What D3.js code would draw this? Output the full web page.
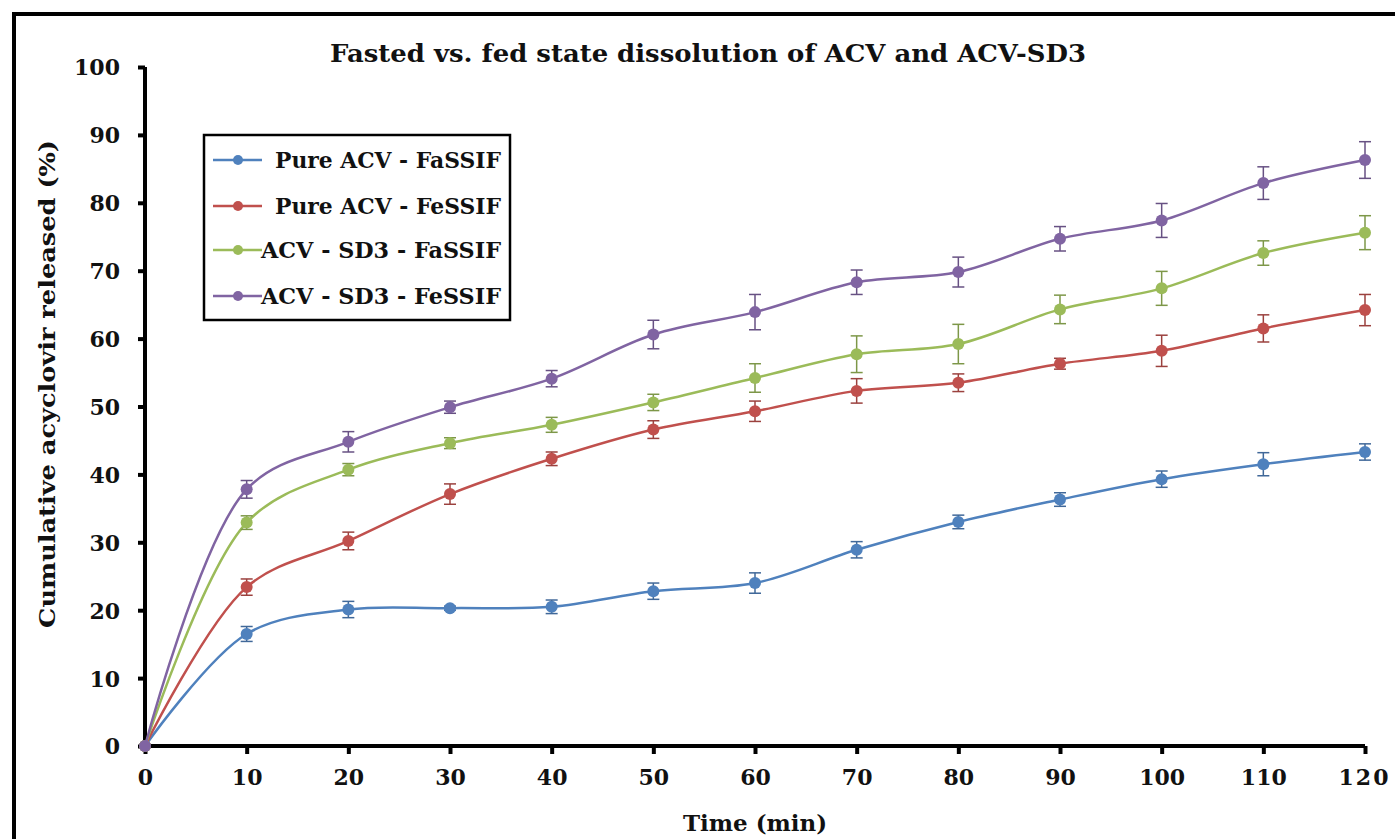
<!DOCTYPE html>
<html>
<head>
<meta charset="utf-8">
<script src="https://cdn.jsdelivr.net/npm/d3@7"></script>
<style>
  body { margin: 0; background: #fff; }
  svg text { font-family: "DejaVu Serif", "Liberation Serif", serif; font-weight: bold; fill: #111; }
</style>
</head>
<body>
<div id="chart"></div>
<script>
// sampling times (min)
var times = [0, 10, 20, 30, 40, 50, 60, 70, 80, 90, 100, 110, 120];

var seriesNames = ["Pure ACV - FaSSIF", "Pure ACV - FeSSIF", "ACV - SD3 - FaSSIF", "ACV - SD3 - FeSSIF"];
var seriesColors = ["#4f81bd", "#c0504d", "#9bbb59", "#8064a2"];

// cumulative release (%)
var pureFa = [0, 16.5, 20.1, 20.3, 20.5, 22.8, 24.0, 28.9, 33.0, 36.3, 39.3, 41.5, 43.3];
var pureFe = [0, 23.4, 30.2, 37.1, 42.3, 46.6, 49.3, 52.3, 53.5, 56.3, 58.2, 61.5, 64.2];
var sd3Fa  = [0, 32.9, 40.7, 44.6, 47.3, 50.6, 54.2, 57.7, 59.2, 64.3, 67.4, 72.6, 75.6];
var sd3Fe  = [0, 37.8, 44.8, 49.9, 54.1, 60.6, 63.9, 68.3, 69.8, 74.7, 77.4, 82.9, 86.3];

// standard deviations
var pureFaSd = [0, 1.1, 1.2, 0.3, 1.0, 1.2, 1.5, 1.2, 1.0, 1.0, 1.2, 1.7, 1.2];
var pureFeSd = [0, 1.2, 1.3, 1.5, 1.0, 1.3, 1.5, 1.8, 1.3, 0.8, 2.3, 2.0, 2.3];
var sd3FaSd  = [0, 1.0, 0.9, 0.8, 1.1, 1.2, 2.1, 2.7, 2.9, 2.1, 2.5, 1.8, 2.5];
var sd3FeSd  = [0, 1.3, 1.5, 0.9, 1.2, 2.1, 2.6, 1.8, 2.2, 1.8, 2.5, 2.4, 2.7];

var yTicks = [0, 10, 20, 30, 40, 50, 60, 70, 80, 90, 100];
var xTicks = [0, 10, 20, 30, 40, 50, 60, 70, 80, 90, 100, 110, 120];

var allValues = [pureFa, pureFe, sd3Fa, sd3Fe];
var allSd = [pureFaSd, pureFeSd, sd3FaSd, sd3FeSd];

var series = seriesNames.map(function(name, i) {
  return {
    name: name,
    color: seriesColors[i],
    points: times.map(function(t, j) { return {x: t, y: allValues[i][j], sd: allSd[i][j]}; })
  };
});

var width = 1395, height = 839;

var svg = d3.select("#chart").append("svg")
    .attr("width", width)
    .attr("height", height);

// outer frame (only top and left edges are visible in the crop)
svg.append("path")
    .attr("d", "M14," + height + " V14 H" + width)
    .attr("fill", "none")
    .attr("stroke", "#000")
    .attr("stroke-width", 4);

var x = d3.scaleLinear().domain([0, 120]).range([145, 1365]);
var y = d3.scaleLinear().domain([0, 100]).range([746, 67]);

// title
svg.append("text")
    .attr("x", 708).attr("y", 62)
    .attr("text-anchor", "middle")
    .style("font-size", "24px")
    .attr("textLength", 756)
    .attr("lengthAdjust", "spacingAndGlyphs")
    .text("Fasted vs. fed  state dissolution of ACV and ACV-SD3");

// y axis
var yAxis = svg.append("g")
    .attr("transform", "translate(" + x(0) + ",0)")
    .call(d3.axisLeft(y).tickValues(yTicks).tickSize(7).tickPadding(18));
yAxis.select(".domain").attr("stroke-width", 4).attr("d", "M0," + y(100) + "V" + y(0));
yAxis.selectAll(".tick line").attr("stroke-width", 4);
yAxis.selectAll(".tick text")
    .style("font-size", "22px")
    .attr("dy", "0.36em");

// x axis
var xAxis = svg.append("g")
    .attr("transform", "translate(0," + y(0) + ")")
    .call(d3.axisBottom(x).tickValues(xTicks).tickSize(8).tickPadding(15));
xAxis.select(".domain").attr("stroke-width", 4).attr("d", "M" + x(0) + ",0H" + x(120));
xAxis.selectAll(".tick line").attr("stroke-width", 4);
xAxis.selectAll(".tick text")
    .style("font-size", "22px")
    .style("letter-spacing", function(d) { return d === 120 ? "2px" : "0px"; })
    .attr("dx", function(d) { return d === 120 ? -1 : 0; });

// axis titles
svg.append("text")
    .attr("x", 755).attr("y", 831)
    .attr("text-anchor", "middle")
    .style("font-size", "22px")
    .attr("textLength", 144)
    .attr("lengthAdjust", "spacingAndGlyphs")
    .text("Time (min)");

svg.append("text")
    .attr("transform", "translate(55,384) rotate(-90)")
    .attr("text-anchor", "middle")
    .style("font-size", "22px")
    .attr("textLength", 488)
    .attr("lengthAdjust", "spacingAndGlyphs")
    .text("Cumulative acyclovir released (%)");

// lines
var line = d3.line()
    .x(function(d) { return x(d.x); })
    .y(function(d) { return y(d.y); })
    .curve(d3.curveCatmullRom.alpha(0.5));

var groups = svg.selectAll(".series")
    .data(series)
  .enter().append("g")
    .attr("class", "series");

groups.append("path")
    .attr("d", function(d) { return line(d.points); })
    .attr("fill", "none")
    .attr("stroke", function(d) { return d.color; })
    .attr("stroke-width", 2.5);

// error bars and markers
groups.each(function(s) {
  var g = d3.select(this);
  var darker = d3.color(s.color).darker(0.6);
  var eb = g.selectAll(".err")
      .data(s.points.filter(function(p) { return p.sd > 0; }))
    .enter().append("g")
      .attr("class", "err")
      .attr("stroke", darker)
      .attr("stroke-width", 1.5);
  eb.append("line")
      .attr("x1", function(p) { return x(p.x); })
      .attr("x2", function(p) { return x(p.x); })
      .attr("y1", function(p) { return y(p.y - p.sd); })
      .attr("y2", function(p) { return y(p.y + p.sd); });
  eb.append("line")
      .attr("x1", function(p) { return x(p.x) - 6; })
      .attr("x2", function(p) { return x(p.x) + 6; })
      .attr("y1", function(p) { return y(p.y + p.sd); })
      .attr("y2", function(p) { return y(p.y + p.sd); });
  eb.append("line")
      .attr("x1", function(p) { return x(p.x) - 6; })
      .attr("x2", function(p) { return x(p.x) + 6; })
      .attr("y1", function(p) { return y(p.y - p.sd); })
      .attr("y2", function(p) { return y(p.y - p.sd); });

  g.selectAll(".dot")
      .data(s.points)
    .enter().append("circle")
      .attr("class", "dot")
      .attr("cx", function(p) { return x(p.x); })
      .attr("cy", function(p) { return y(p.y); })
      .attr("r", 6)
      .attr("fill", s.color);
});

// legend
var legend = svg.append("g");
legend.append("rect")
    .attr("x", 204).attr("y", 135)
    .attr("width", 306).attr("height", 185)
    .attr("fill", "#fff")
    .attr("stroke", "#000")
    .attr("stroke-width", 2.5);

var legendY = [160, 206, 250, 296];
var legendTextX = [275, 275, 261, 261];
var legendTextLen = [226, 226, 240, 240];

var items = legend.selectAll(".item")
    .data(series)
  .enter().append("g")
    .attr("class", "item")
    .attr("transform", function(d, i) { return "translate(0," + legendY[i] + ")"; });

items.append("line")
    .attr("x1", 213).attr("x2", 262)
    .attr("stroke", function(d) { return d.color; })
    .attr("stroke-width", 2.5);
items.append("circle")
    .attr("cx", 238).attr("r", 5)
    .attr("fill", function(d) { return d.color; });
items.append("text")
    .attr("x", function(d, i) { return legendTextX[i]; })
    .attr("y", 8)
    .style("font-size", "22px")
    .attr("textLength", function(d, i) { return legendTextLen[i]; })
    .attr("lengthAdjust", "spacingAndGlyphs")
    .text(function(d) { return d.name; });
</script>
</body>
</html>
